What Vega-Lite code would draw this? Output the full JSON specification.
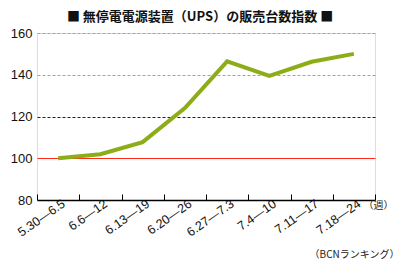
{
  "$schema": "https://vega.github.io/schema/vega-lite/v6.json",
  "autosize": "none",
  "width": 338,
  "height": 167,
  "padding": {"left": 37, "top": 33, "right": 25, "bottom": 65},
  "background": "white",
  "title": {
    "text": "■ 無停電電源装置（UPS）の販売台数指数 ■",
    "font": "Noto Sans CJK JP",
    "fontSize": 13,
    "fontWeight": "bold",
    "color": "#111111",
    "anchor": "middle",
    "dx": -6,
    "offset": 3
  },
  "data": {
    "values": [
      {"week": "5.30—6.5", "index": 100},
      {"week": "6.6—12", "index": 101.9},
      {"week": "6.13—19", "index": 107.7},
      {"week": "6.20—26", "index": 124},
      {"week": "6.27—7.3", "index": 146.4},
      {"week": "7.4—10", "index": 139.5},
      {"week": "7.11—17", "index": 146.2},
      {"week": "7.18—24", "index": 150}
    ]
  },
  "mark": {"type": "line", "color": "#8cad17", "strokeWidth": 4, "strokeCap": "butt", "strokeJoin": "miter"},
  "encoding": {
    "x": {
      "field": "week",
      "type": "ordinal",
      "sort": null,
      "scale": {"type": "band", "paddingInner": 0, "paddingOuter": 0},
      "axis": {
        "title": "（週）",
        "titleFont": "Noto Sans CJK JP",
        "titleFontSize": 10,
        "titleFontWeight": "normal",
        "titleColor": "#222222",
        "titleAlign": "left",
        "titleBaseline": "middle",
        "titleAnchor": null,
        "titleX": 326,
        "titleY": 5,
        "tickBand": "extent",
        "tickSize": -6,
        "tickColor": "#000000",
        "tickWidth": 1,
        "domainColor": "#000000",
        "domainWidth": 1.5,
        "labelAngle": -35,
        "labelAlign": "right",
        "labelBaseline": "middle",
        "labelPadding": 8,
        "labelOffset": 5,
        "labelFont": "Liberation Sans",
        "labelFontSize": 12.5,
        "labelColor": "#111111",
        "grid": false
      }
    },
    "y": {
      "field": "index",
      "type": "quantitative",
      "scale": {"domain": [80, 160], "nice": false, "zero": false},
      "axis": {
        "values": [80, 100, 120, 140, 160],
        "title": "（BCNランキング）",
        "titleFont": "Noto Sans CJK JP",
        "titleFontSize": 10,
        "titleFontWeight": "normal",
        "titleColor": "#222222",
        "titleAngle": 0,
        "titleAlign": "right",
        "titleBaseline": "middle",
        "titleAnchor": null,
        "titleX": 362,
        "titleY": 221,
        "domain": false,
        "ticks": false,
        "labelPadding": 5,
        "labelFont": "Liberation Sans",
        "labelFontSize": 13,
        "labelColor": "#111111",
        "grid": true,
        "gridColor": {
          "condition": [
            {"test": "datum.value === 100", "value": "#ff2a1a"},
            {"test": "datum.value === 120", "value": "#222222"},
            {"test": "datum.value === 80", "value": "transparent"}
          ],
          "value": "#a3a68c"
        },
        "gridDash": {
          "condition": {"test": "datum.value === 100", "value": []},
          "value": [3, 2]
        },
        "gridWidth": 1
      }
    }
  }
}
